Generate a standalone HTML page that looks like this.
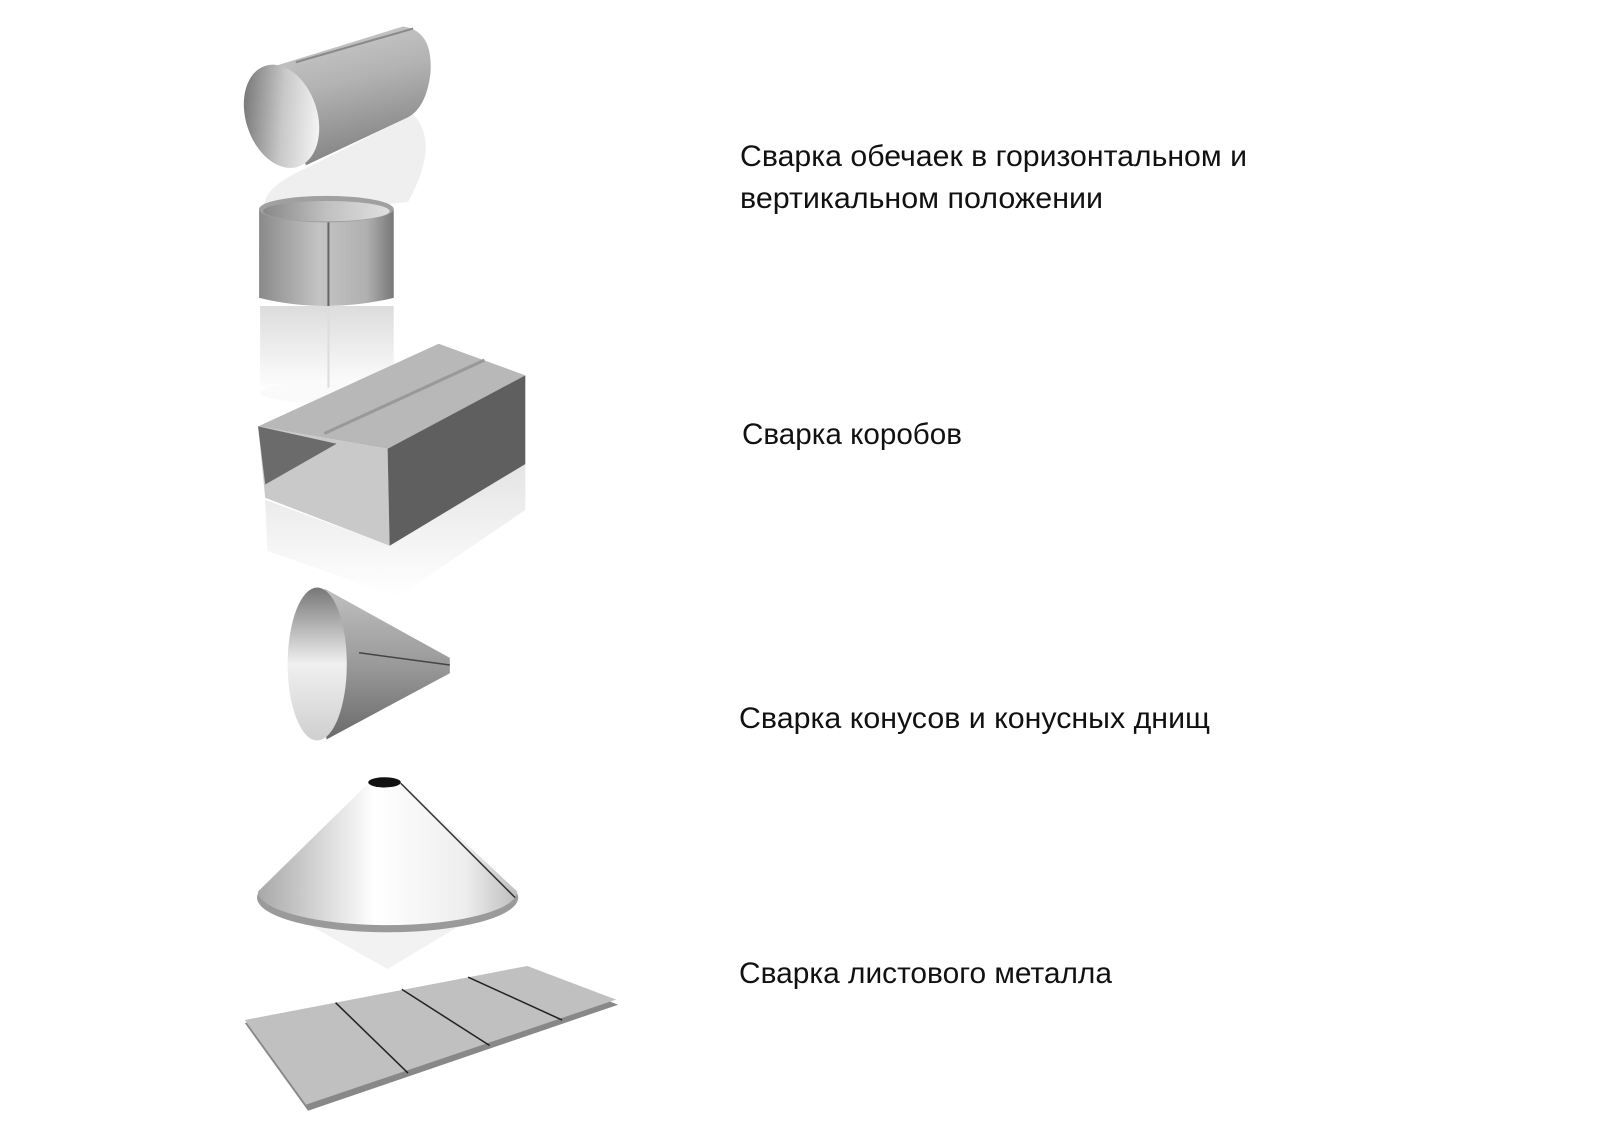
<!DOCTYPE html>
<html><head><meta charset="utf-8"><style>
html,body{margin:0;padding:0;background:#fff;}
svg{display:block;}
text{font-family:"Liberation Sans","DejaVu Sans",sans-serif;font-size:30px;fill:#111;}
</style></head><body>
<svg width="1600" height="1124" viewBox="0 0 1600 1124" xmlns="http://www.w3.org/2000/svg">
<defs>
<linearGradient id="cyl" x1="0" y1="0" x2="0.3" y2="1">
<stop offset="0" stop-color="#cfcfcf"/><stop offset="0.5" stop-color="#b2b2b2"/><stop offset="1" stop-color="#858585"/></linearGradient>
<linearGradient id="inner" x1="0" y1="0" x2="1" y2="0.6">
<stop offset="0" stop-color="#5e5e5e"/><stop offset="0.6" stop-color="#c8c8c8"/><stop offset="1" stop-color="#f2f2f2"/></linearGradient>
<linearGradient id="vcyl" x1="0" y1="0" x2="1" y2="0">
<stop offset="0" stop-color="#8a8a8a"/><stop offset="0.45" stop-color="#c4c4c4"/><stop offset="0.8" stop-color="#b0b0b0"/><stop offset="1" stop-color="#777"/></linearGradient>
<linearGradient id="vin" x1="0" y1="0" x2="1" y2="0">
<stop offset="0" stop-color="#888"/><stop offset="0.5" stop-color="#c0c0c0"/><stop offset="1" stop-color="#e0e0e0"/></linearGradient>
<linearGradient id="refl" x1="0" y1="0" x2="0" y2="1">
<stop offset="0" stop-color="#dcdcdc"/><stop offset="1" stop-color="#fff"/></linearGradient>
<linearGradient id="boxrefl" x1="0" y1="0" x2="0" y2="1">
<stop offset="0" stop-color="#e4e4e4"/><stop offset="1" stop-color="#fff"/></linearGradient>
<linearGradient id="cone1" x1="0" y1="0" x2="0" y2="1">
<stop offset="0" stop-color="#c0c0c0"/><stop offset="0.5" stop-color="#9a9a9a"/><stop offset="1" stop-color="#6a6a6a"/></linearGradient>
<linearGradient id="coneIn" x1="0" y1="0" x2="0" y2="1">
<stop offset="0" stop-color="#777"/><stop offset="0.5" stop-color="#f0f0f0"/><stop offset="1" stop-color="#cfcfcf"/></linearGradient>
<linearGradient id="cone2" x1="0" y1="0" x2="1" y2="0">
<stop offset="0" stop-color="#a8a8a8"/><stop offset="0.45" stop-color="#fff"/><stop offset="0.8" stop-color="#eee"/><stop offset="1" stop-color="#bdbdbd"/></linearGradient>
</defs>

<g transform="scale(1.02)">
<path d="M300 165 L405 112 Q432 140 400 198 L262 212 Q248 188 300 165Z" fill="#efefef"/>
<path d="M262 67 L395 26 Q425 30 422 72 Q418 105 400 115 L300 162 Z" fill="url(#cyl)"/>
<line x1="290" y1="61" x2="405" y2="28" stroke="#8a8a8a" stroke-width="2"/>
<ellipse cx="276" cy="114" rx="35" ry="52" transform="rotate(-18 276 114)" fill="url(#inner)"/>

<rect x="255" y="300" width="131" height="85" fill="url(#refl)"/>
<ellipse cx="320" cy="385" rx="65" ry="10" fill="#fafafa"/>
<line x1="322" y1="300" x2="322" y2="380" stroke="#ddd" stroke-width="2"/>
<path d="M254 205 L254 292 Q320 308 386 292 L386 205 Z" fill="url(#vcyl)"/>
<ellipse cx="320" cy="205" rx="66" ry="13" fill="#a0a0a0"/>
<ellipse cx="320" cy="207" rx="62" ry="10" fill="url(#vin)"/>
<line x1="322" y1="218" x2="322" y2="300" stroke="#666" stroke-width="2"/>

<path d="M260 490 L382 535 L515 455 L515 500 L390 585 L262 540 Z" fill="url(#boxrefl)"/>
<path d="M253 418 L430 337 L515 368 L380 440 Z" fill="#b8b8b8"/>
<path d="M253 418 L380 440 L382 535 L260 488 Z" fill="#c9c9c9"/>
<path d="M253 418 L330 435 L260 475 Z" fill="#6b6b6b"/>
<path d="M380 440 L515 368 L515 455 L382 535 Z" fill="#5f5f5f"/>
<line x1="318" y1="425" x2="475" y2="353" stroke="#999" stroke-width="3"/>

<path d="M318 577 L441 645 L441 660 L320 725 Z" fill="url(#cone1)"/>
<line x1="352" y1="640" x2="441" y2="652" stroke="#444" stroke-width="1.5"/>
<ellipse cx="311" cy="651" rx="29" ry="75" fill="url(#coneIn)"/>

<path d="M300 905 L380 950 L455 905 Z" fill="#f2f2f2"/>
<ellipse cx="380" cy="880" rx="128" ry="34" fill="#9a9a9a"/>
<path d="M363 766 L392 766 L507 874 A127 33 0 0 1 253 874 Z" fill="url(#cone2)"/>
<ellipse cx="377" cy="767" rx="16" ry="5" fill="#111"/>
<line x1="393" y1="768" x2="505" y2="880" stroke="#333" stroke-width="1.5"/>

<path d="M240 1003 L517 950 L606 985 L302 1089 Z" fill="#888"/>
<path d="M240 1000 L517 947 L604 980 L300 1083 Z" fill="#c0c0c0"/>
<line x1="329" y1="983" x2="400" y2="1052" stroke="#222" stroke-width="1.5"/>
<line x1="394" y1="970" x2="480" y2="1025" stroke="#222" stroke-width="1.5"/>
<line x1="459" y1="958" x2="551" y2="1000" stroke="#222" stroke-width="1.5"/>
</g>

<text x="740" y="166" textLength="507" lengthAdjust="spacingAndGlyphs">Сварка обечаек в горизонтальном и</text>
<text x="740" y="208" textLength="363" lengthAdjust="spacingAndGlyphs">вертикальном положении</text>
<text x="742" y="444" textLength="220" lengthAdjust="spacingAndGlyphs">Сварка коробов</text>
<text x="739" y="728" textLength="471" lengthAdjust="spacingAndGlyphs">Сварка конусов и конусных днищ</text>
<text x="739" y="983" textLength="373" lengthAdjust="spacingAndGlyphs">Сварка листового металла</text>
</svg>
</body></html>
